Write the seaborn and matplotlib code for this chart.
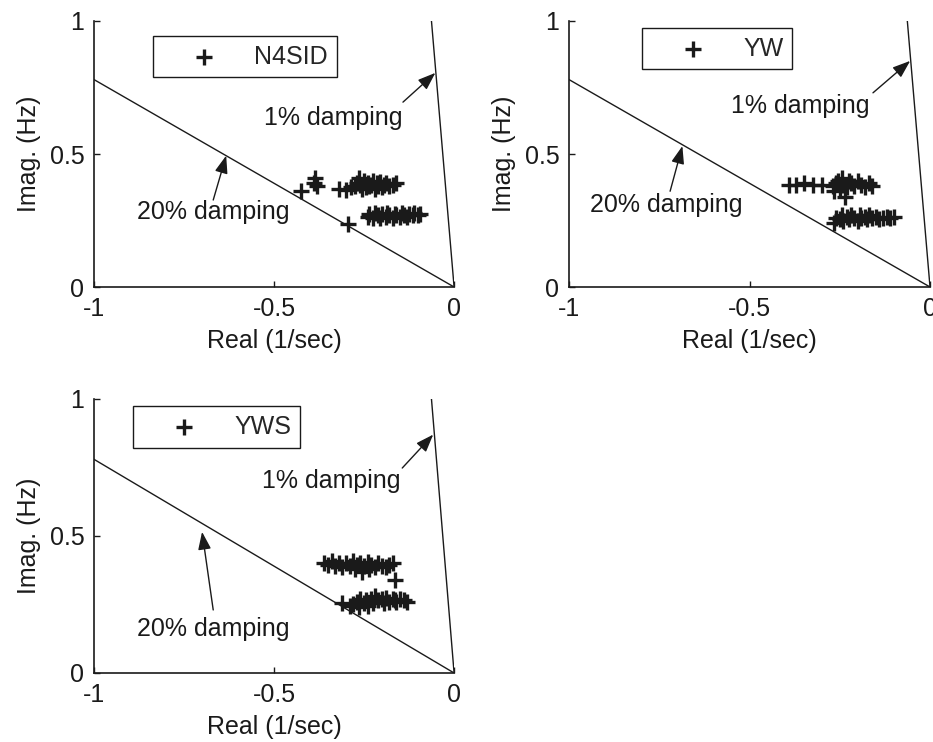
import numpy as np
import pandas as pd
import seaborn as sns
import matplotlib.pyplot as plt

# estimated modes (real part in 1/sec, imaginary part in Hz)
n4sid_real = [-0.425, -0.39, -0.385, -0.38, -0.32, -0.30, -0.285, -0.275, -0.27, -0.265,
              -0.26, -0.255, -0.25, -0.245, -0.24, -0.235, -0.23, -0.225, -0.22, -0.215,
              -0.21, -0.205, -0.20, -0.195, -0.19, -0.18, -0.17, -0.16,
              -0.295, -0.24, -0.235, -0.225, -0.22, -0.21, -0.205, -0.20, -0.19, -0.185,
              -0.18, -0.17, -0.165, -0.16, -0.15, -0.145, -0.14, -0.13, -0.125, -0.115,
              -0.11, -0.10, -0.095]
n4sid_imag = [0.36, 0.39, 0.41, 0.38, 0.37, 0.365, 0.375, 0.38, 0.39, 0.41,
              0.385, 0.37, 0.40, 0.375, 0.39, 0.38, 0.385, 0.40, 0.37, 0.39,
              0.38, 0.395, 0.375, 0.385, 0.39, 0.38, 0.385, 0.39,
              0.235, 0.265, 0.275, 0.26, 0.28, 0.27, 0.26, 0.275, 0.265, 0.28,
              0.27, 0.26, 0.275, 0.27, 0.265, 0.28, 0.27, 0.265, 0.275, 0.27,
              0.28, 0.27, 0.275]

yw_real = [-0.39, -0.37, -0.35, -0.325, -0.30, -0.27, -0.265, -0.26, -0.255, -0.25,
           -0.245, -0.24, -0.235, -0.23, -0.225, -0.22, -0.21, -0.20, -0.19, -0.18,
           -0.17, -0.16,
           -0.265, -0.26, -0.25, -0.245, -0.24, -0.23, -0.225, -0.22, -0.21, -0.20,
           -0.195, -0.19, -0.18, -0.175, -0.17, -0.16, -0.15, -0.14, -0.13, -0.12,
           -0.11, -0.10]
yw_imag = [0.385, 0.385, 0.39, 0.385, 0.385, 0.38, 0.36, 0.39, 0.40, 0.37,
           0.41, 0.385, 0.34, 0.375, 0.40, 0.39, 0.38, 0.40, 0.385, 0.375,
           0.39, 0.38,
           0.24, 0.26, 0.255, 0.27, 0.25, 0.265, 0.255, 0.27, 0.26, 0.25,
           0.27, 0.26, 0.265, 0.255, 0.27, 0.26, 0.265, 0.255, 0.26, 0.265,
           0.26, 0.265]

yws_real = [-0.36, -0.35, -0.34, -0.33, -0.32, -0.31, -0.30, -0.29, -0.28, -0.275,
            -0.27, -0.26, -0.255, -0.25, -0.24, -0.235, -0.23, -0.22, -0.21, -0.20,
            -0.19, -0.18, -0.17, -0.165,
            -0.31, -0.29, -0.28, -0.27, -0.265, -0.26, -0.25, -0.245, -0.24, -0.23,
            -0.225, -0.22, -0.21, -0.20, -0.195, -0.19, -0.18, -0.17, -0.165, -0.16,
            -0.15, -0.14, -0.13]
yws_imag = [0.40, 0.395, 0.41, 0.39, 0.40, 0.385, 0.40, 0.39, 0.41, 0.38,
            0.395, 0.40, 0.37, 0.39, 0.405, 0.38, 0.395, 0.385, 0.40, 0.39,
            0.385, 0.395, 0.40, 0.34,
            0.255, 0.245, 0.25, 0.26, 0.24, 0.27, 0.255, 0.265, 0.245, 0.27,
            0.255, 0.28, 0.265, 0.27, 0.255, 0.275, 0.26, 0.27, 0.265, 0.26,
            0.27, 0.265, 0.26]

methods = ['N4SID', 'YW', 'YWS']
damping = [0.20, 0.01]

# annotation: (arrow tip, arrow tail, text centre) per panel
ann_20 = [((-0.633, 0.494), (-0.669, 0.327), (-0.67, 0.283)),
          ((-0.686, 0.530), (-0.72, 0.36), (-0.73, 0.31)),
          ((-0.70, 0.515), (-0.669, 0.23), (-0.67, 0.16))]
ann_1 = [((-0.052, 0.805), (-0.142, 0.695), (-0.335, 0.635)),
         ((-0.055, 0.85), (-0.158, 0.73), (-0.36, 0.68)),
         ((-0.058, 0.87), (-0.144, 0.748), (-0.34, 0.70))]
leg_pos = [(0.164, 0.944), (0.202, 0.974), (0.108, 0.974)]

sns.set_theme(style='ticks')
plt.rcParams['font.family'] = ['Liberation Sans', 'DejaVu Sans']
plt.rcParams['font.size'] = 18

fig = plt.figure(figsize=(9.33, 7.42), dpi=100)
axes = [fig.add_axes([0.1008, 0.6132, 0.3859, 0.3585]),
        fig.add_axes([0.6099, 0.6132, 0.3869, 0.3585]),
        fig.add_axes([0.1008, 0.0930, 0.3859, 0.3693])]

data = {'N4SID': (n4sid_real, n4sid_imag),
        'YW': (yw_real, yw_imag),
        'YWS': (yws_real, yws_imag)}

arrow = dict(arrowstyle='-|>,head_length=0.6,head_width=0.22', color='k', lw=1,
             mutation_scale=18, shrinkA=0, shrinkB=0)

for i, ax in enumerate(axes):
    name = methods[i]
    df = pd.DataFrame({'real': data[name][0], 'imag': data[name][1]})

    # constant damping lines
    for z in damping:
        k = z / np.sqrt(1 - z**2) * 2 * np.pi
        f = np.array([0, 1.0])
        ax.plot(-k * f, f, color='k', lw=1)

    sns.scatterplot(data=df, x='real', y='imag', marker='+', color='k', s=140,
                    linewidth=2.4, ax=ax, label=name, zorder=3)

    ax.set_xlim(-1, 0)
    ax.set_ylim(0, 1)
    ax.set_xticks([-1, -0.5, 0])
    ax.set_xticklabels(['-1', '-0.5', '0'])
    ax.set_yticks([0, 0.5, 1])
    ax.set_yticklabels(['0', '0.5', '1'])
    ax.tick_params(direction='in', length=4, width=1, labelsize=18, colors='k', pad=7)
    ax.set_xlabel('Real (1/sec)', fontsize=18, color='k', labelpad=6)
    ax.set_ylabel('Imag. (Hz)', fontsize=18, color='k', labelpad=6)
    for sp in ['left', 'bottom']:
        ax.spines[sp].set_color('k')
        ax.spines[sp].set_linewidth(1.2)
    sns.despine(ax=ax)

    for label, ann in [('20% damping', ann_20[i]), ('1% damping', ann_1[i])]:
        tip, tail, txt = ann
        ax.annotate('', xy=tip, xytext=tail, arrowprops=arrow)
        ax.text(txt[0], txt[1], label, ha='center', va='center', fontsize=18, color='k')

    leg = ax.legend(loc='upper left', bbox_to_anchor=leg_pos[i], borderaxespad=0,
                    fancybox=False, edgecolor='k', framealpha=1, fontsize=18,
                    handlelength=3.4, handletextpad=0.3, borderpad=0.35)
    leg.get_frame().set_linewidth(1)

fig.savefig('out.png', dpi=100)
